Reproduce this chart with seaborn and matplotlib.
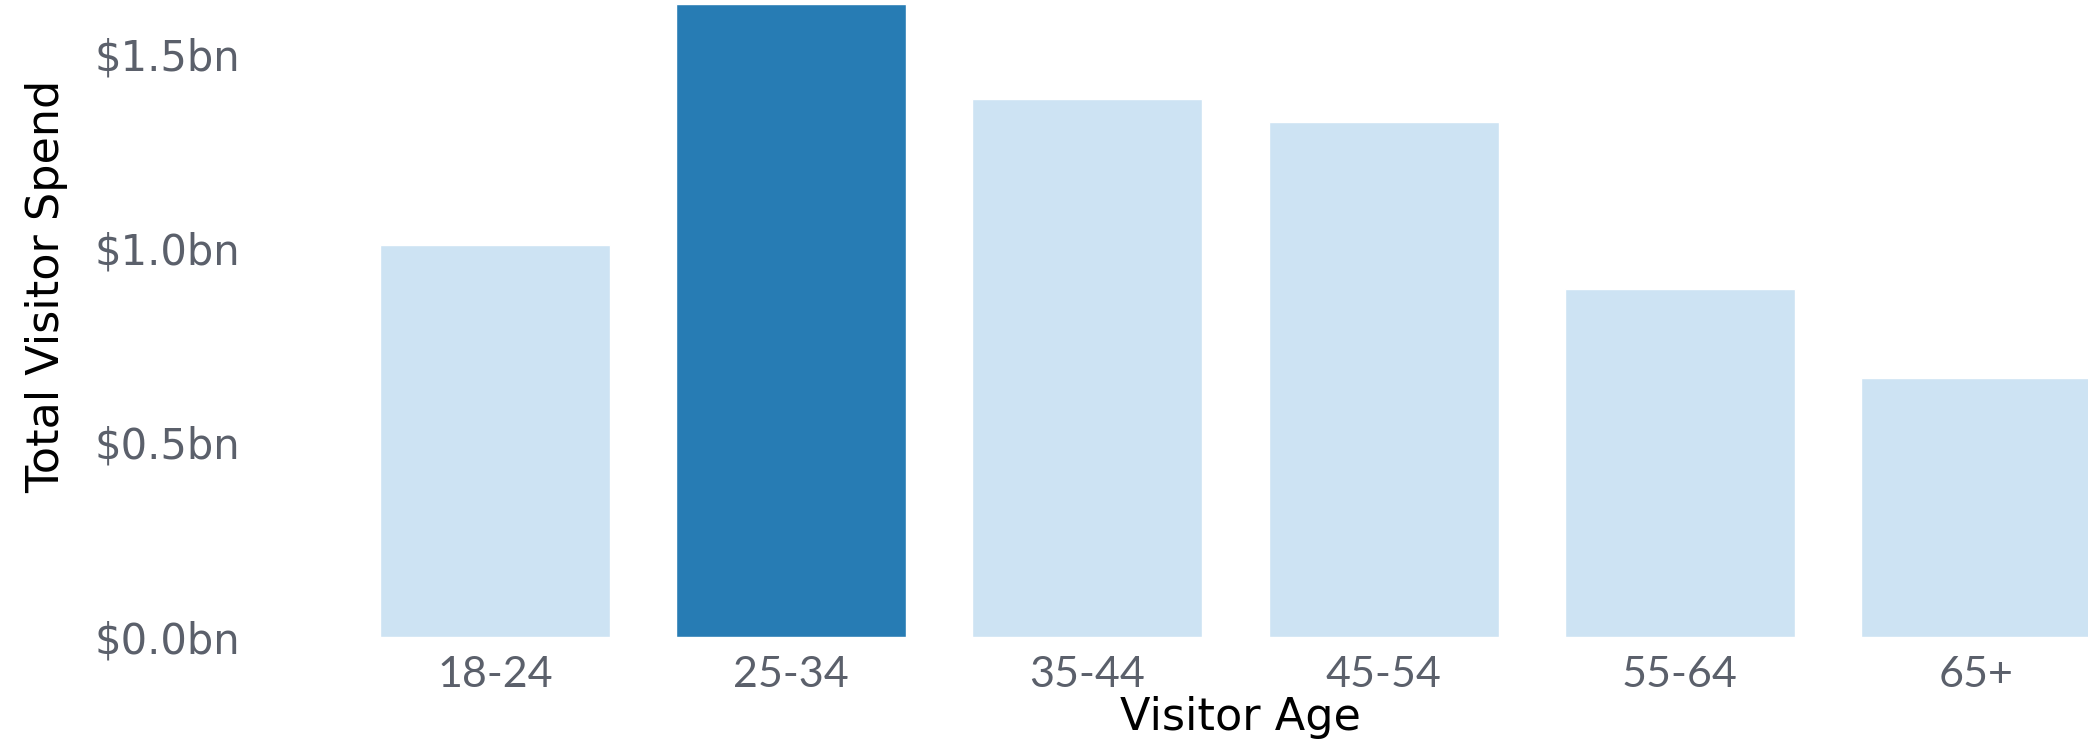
"""
Bar chart of total visitor spend by visitor age group.
"""
import pandas as pd
import matplotlib
matplotlib.use('Agg')
import matplotlib.pyplot as plt
from matplotlib.ticker import FuncFormatter
import seaborn as sns

# --- Data ---
AGE_GROUPS = ['18-24', '25-34', '35-44', '45-54', '55-64', '65+']
SPEND_BN = [1.01, 1.63, 1.385, 1.325, 0.895, 0.666]
HIGHLIGHT = '25-34'

# --- Style ---
LIGHT_BLUE = '#cde3f3'
DARK_BLUE = '#277cb4'
TICK_GREY = '#5b606b'
OUTPUT_FILE = 'out.png'


def build_frame():
    """Put the age groups and spend values in a DataFrame."""
    df = pd.DataFrame({'Visitor Age': AGE_GROUPS, 'Total Visitor Spend': SPEND_BN})
    df['Visitor Age'] = pd.Categorical(df['Visitor Age'], categories=AGE_GROUPS, ordered=True)
    return df


def plot_spend(df):
    sns.set_theme(style='white')
    fig = plt.figure(figsize=(20.88, 7.42), dpi=100)
    ax = fig.add_axes([250 / 2088, 105.5 / 742, 1 - 250 / 2088, 1 - 105.5 / 742])

    palette = {age: (DARK_BLUE if age == HIGHLIGHT else LIGHT_BLUE) for age in AGE_GROUPS}
    sns.barplot(data=df, x='Visitor Age', y='Total Visitor Spend', hue='Visitor Age',
                palette=palette, saturation=1, width=0.777, legend=False, ax=ax)

    ax.set_xlim(-0.827, 5.378)
    ax.set_ylim(0, 1.64)
    ax.set_yticks([0, 0.5, 1.0, 1.5])
    ax.yaxis.set_major_formatter(FuncFormatter(lambda v, _: f'${v:.1f}bn'))
    sns.despine(ax=ax, left=True, bottom=True)
    ax.grid(False)

    ax.tick_params(axis='x', length=0, pad=14, labelcolor=TICK_GREY)
    ax.tick_params(axis='y', length=0, pad=7, labelcolor=TICK_GREY)
    for lbl in ax.get_xticklabels():
        lbl.set_fontfamily(['Lato', 'DejaVu Sans'])
        lbl.set_fontsize(31)
    for lbl in ax.get_yticklabels():
        lbl.set_fontfamily(['DejaVu Sans'])
        lbl.set_fontsize(30)

    ax.set_xlabel('Visitor Age', fontsize=32, color='black', family=['DejaVu Sans'])
    ax.set_ylabel('Total Visitor Spend', fontsize=32, color='black', family=['DejaVu Sans'])
    ax.xaxis.label.set_va('baseline')
    ax.xaxis.set_label_coords(1240 / 2088, 12 / 742, transform=fig.transFigure)
    ax.yaxis.label.set_va('baseline')
    ax.yaxis.set_label_coords(59 / 2088, 1 - 286 / 742, transform=fig.transFigure)

    fig.savefig(OUTPUT_FILE, dpi=100)
    plt.close(fig)


def main():
    df = build_frame()
    plot_spend(df)


if __name__ == '__main__':
    main()
